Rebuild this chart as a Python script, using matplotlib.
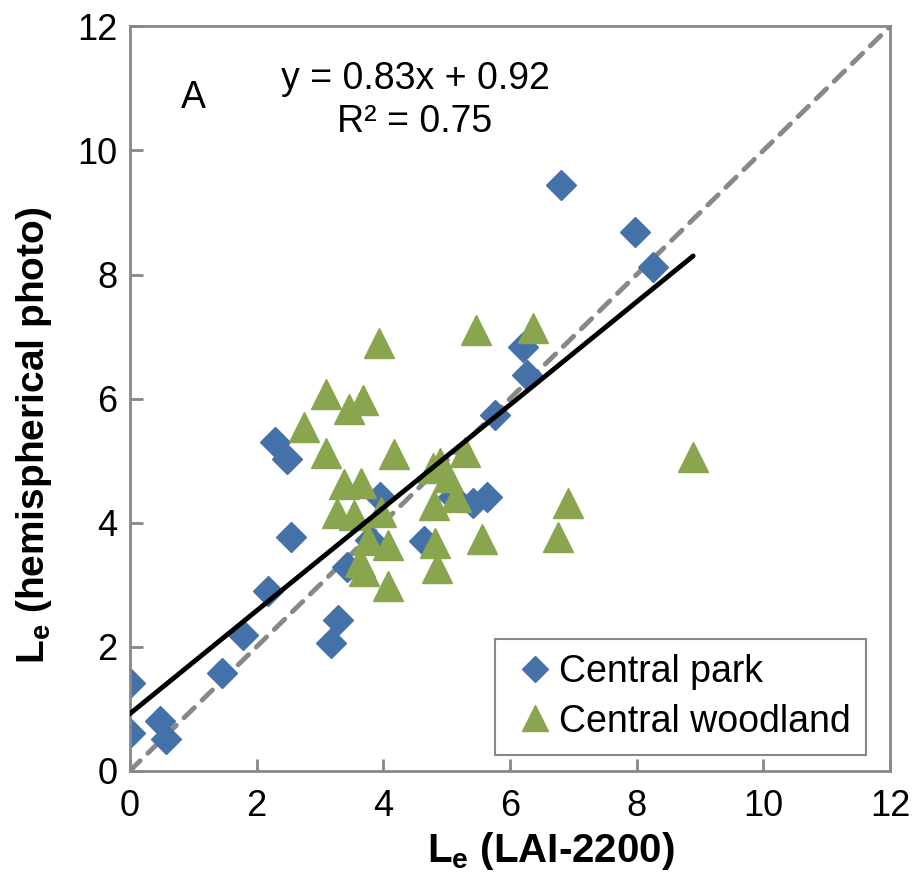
import numpy as np
import matplotlib
matplotlib.use("Agg")
import matplotlib.pyplot as plt

plt.rcParams['font.family'] = ['Liberation Sans', 'DejaVu Sans']
plt.rcParams['mathtext.fontset'] = 'custom'
plt.rcParams['mathtext.rm'] = 'Liberation Sans'
plt.rcParams['mathtext.bf'] = 'Liberation Sans:bold'

# Central park (diamonds)
park_x = [6.81, 7.98, 8.26, 6.21, 6.27, 5.77, 2.29, 2.48, 2.54, 3.95, 3.79, 3.43,
          2.18, 3.29, 3.18, 1.79, 1.45, 0.0, 0.0, 0.47, 0.57, 4.64, 5.10, 5.42, 5.64]
park_y = [9.44, 8.68, 8.12, 6.83, 6.38, 5.73, 5.30, 5.02, 3.77, 4.42, 3.72, 3.29,
          2.90, 2.43, 2.06, 2.19, 1.58, 1.42, 0.61, 0.81, 0.52, 3.70, 4.41, 4.31, 4.41]

# Central woodland (triangles)
wood_x = [3.93, 3.10, 3.68, 3.46, 2.75, 3.10, 4.17, 5.47, 6.37, 3.38, 3.65, 3.27,
          3.54, 3.97, 3.76, 3.63, 4.08, 3.70, 4.08, 4.79, 4.90, 5.02, 5.29, 4.80,
          5.15, 4.82, 4.85, 5.56, 6.92, 6.76, 8.89]
wood_y = [6.89, 6.08, 5.97, 5.84, 5.54, 5.12, 5.10, 7.10, 7.14, 4.62, 4.64, 4.15,
          4.12, 4.17, 3.72, 3.37, 3.64, 3.22, 2.98, 4.88, 4.97, 4.73, 5.14, 4.28,
          4.41, 3.67, 3.27, 3.73, 4.31, 3.77, 5.06]

slope, intercept = 0.83, 0.92
fit_x_end = 8.89

grey = '#888888'
fig = plt.figure(figsize=(9.14, 8.77), dpi=100)
ax = fig.add_axes([0.142, 0.121, 0.832, 0.849])

ax.plot([0, 12], [0, 12], ls=(0, (3, 2.2)), color=grey, lw=3.5, zorder=1,
        dash_capstyle='round')
ax.plot(park_x, park_y, 'D', ms=15, color='#4571A9', mec='#4571A9', ls='none',
        label='Central park', zorder=2)
ax.plot(wood_x, wood_y, '^', ms=21, color='#89A54E', mec='#89A54E', ls='none',
        label='Central woodland', zorder=3)
fx = np.array([0, fit_x_end])
ax.plot(fx, slope * fx + intercept, color='black', lw=3.5, zorder=4,
        solid_capstyle='round')

ax.set_xlim(0, 12)
ax.set_ylim(0, 12)
ax.set_xticks(range(0, 13, 2))
ax.set_yticks(range(0, 13, 2))
ax.tick_params(direction='in', length=9, width=2, color=grey, labelsize=26)
ax.tick_params(axis='x', pad=13)
ax.tick_params(axis='y', pad=9)
for s in ax.spines.values():
    s.set_color(grey)
    s.set_linewidth(2)

ax.set_xlabel(r'$\mathbf{L_e}$ (LAI-2200)', fontsize=29, fontweight='bold')
ax.set_ylabel(r'$\mathbf{L_e}$ (hemispherical photo)', fontsize=28, fontweight='bold')
ax.xaxis.set_label_coords(0.553, -0.08)
ax.yaxis.set_label_coords(-0.10, 0.451)

ax.text(1.0, 10.85, 'A', fontsize=27, ha='center', va='center')
ax.text(4.5, 11.15, 'y = 0.83x + 0.92', fontsize=27, ha='center', va='center')
ax.text(4.5, 10.45, 'R² = 0.75', fontsize=27, ha='center', va='center')

leg = ax.legend(loc='lower right', bbox_to_anchor=(0.968, 0.022), fontsize=27,
                fancybox=False, edgecolor=grey, framealpha=1, handletextpad=0.0,
                borderpad=0.4, labelspacing=0.35, handlelength=1.3,
                borderaxespad=0)
leg.get_frame().set_linewidth(1.5)
leg.legend_handles[0].set_markersize(13)
leg.legend_handles[1].set_markersize(19)

fig.savefig('out.png', dpi=100)
